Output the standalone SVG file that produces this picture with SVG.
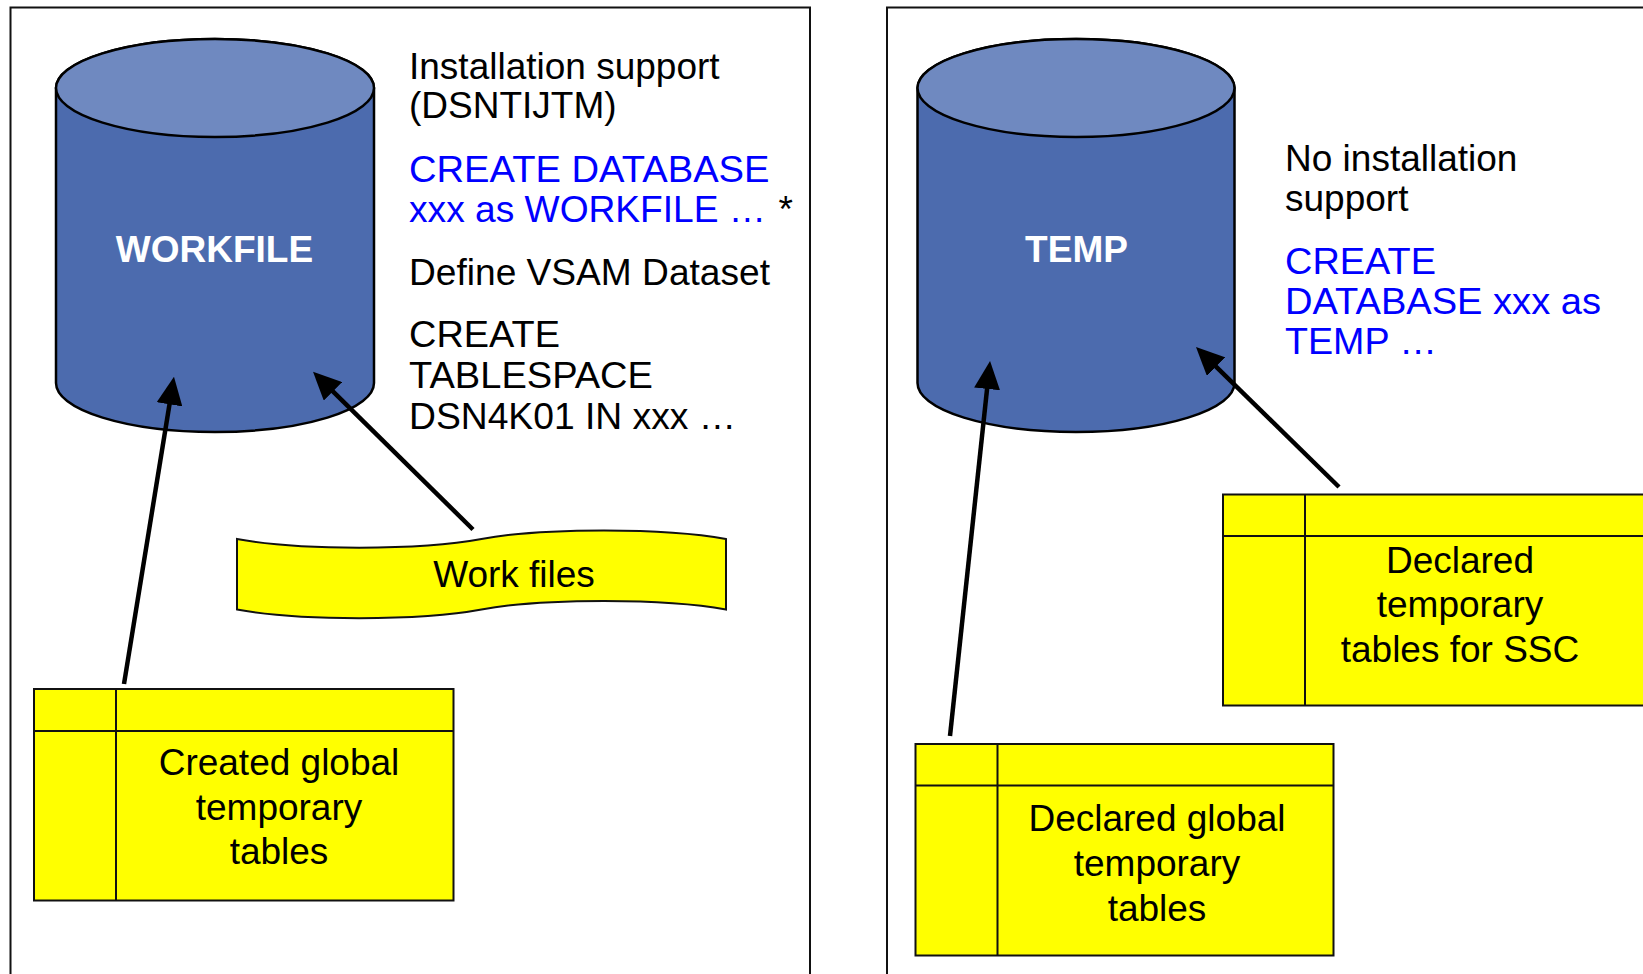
<svg xmlns="http://www.w3.org/2000/svg" width="1643" height="974" viewBox="0 0 1643 974">
<defs>
<style>
.frame{fill:#fff;stroke:#111;stroke-width:2}
.cylbody{fill:#4C6BAE;stroke:#000;stroke-width:2.5}
.cyltop{fill:#6F89C0;stroke:#000;stroke-width:2.5}
.yel{fill:#FFFF00;stroke:#111;stroke-width:2}
.ln{fill:none;stroke:#111;stroke-width:2}
.t{font-family:"Liberation Sans",Arial,sans-serif;font-size:37px;fill:#000}
.b{fill:#0000FF}
.c{text-anchor:middle}
.cyl{font-family:"Liberation Sans",Arial,sans-serif;font-size:37px;font-weight:bold;fill:#fff;text-anchor:middle}
.arr{stroke:#000;stroke-width:4.5;fill:none;marker-end:url(#ah)}
</style>
<marker id="ah" markerUnits="userSpaceOnUse" markerWidth="28" markerHeight="26" viewBox="0 0 28 26" refX="20" refY="13" orient="auto">
<path d="M0,0 L28,13 L0,26 Z" fill="#000"/>
</marker>
</defs>

<g id="panel-left">
<rect class="frame" x="10.5" y="7.5" width="799.5" height="1000"/>
</g>
<g id="panel-right">
<rect class="frame" x="887" y="7.5" width="800" height="1000"/>
</g>

<g id="workfile">
<path class="cylbody" d="M56,88 A159,49 0 0 1 374,88 V383 A159,49 0 0 1 56,383 Z"/>
<ellipse class="cyltop" cx="215" cy="88" rx="159" ry="49"/>
<text class="cyl" x="214.5" y="262">WORKFILE</text>
</g>

<g id="workfile-notes">
<text class="t" x="409" y="79">Installation support</text>
<text class="t" x="409" y="118">(DSNTIJTM)</text>
<text class="t b" x="409" y="181.5" textLength="360.5" lengthAdjust="spacingAndGlyphs">CREATE DATABASE</text>
<text class="t b" x="409" y="221.5" textLength="357" lengthAdjust="spacingAndGlyphs">xxx as WORKFILE …</text>
<text class="t" x="778.5" y="221.5">*</text>
<text class="t" x="409" y="285" textLength="361" lengthAdjust="spacingAndGlyphs">Define VSAM Dataset</text>
<text class="t" x="409" y="347" textLength="151" lengthAdjust="spacingAndGlyphs">CREATE</text>
<text class="t" x="409" y="388" textLength="244" lengthAdjust="spacingAndGlyphs">TABLESPACE</text>
<text class="t" x="409" y="428.5" textLength="327" lengthAdjust="spacingAndGlyphs">DSN4K01 IN xxx …</text>
</g>

<g id="temp">
<path class="cylbody" d="M917.5,88 A158.5,49 0 0 1 1234.5,88 V383 A158.5,49 0 0 1 917.5,383 Z"/>
<ellipse class="cyltop" cx="1076" cy="88" rx="158.5" ry="49"/>
<text class="cyl" x="1076.5" y="262">TEMP</text>
</g>

<g id="temp-notes">
<text class="t" x="1285" y="170.5">No installation</text>
<text class="t" x="1285" y="210.5">support</text>
<text class="t b" x="1285" y="273.5" textLength="151" lengthAdjust="spacingAndGlyphs">CREATE</text>
<text class="t b" x="1285" y="313.5" textLength="316" lengthAdjust="spacingAndGlyphs">DATABASE xxx as</text>
<text class="t b" x="1285" y="354" textLength="152" lengthAdjust="spacingAndGlyphs">TEMP …</text>
</g>

<g id="workfiles">
<path class="yel" d="M237,539 C298,550.5 420,550.5 481.5,539 C543,527.5 665,527.5 726,539 L726,609.5 C665,598 543,598 481.5,609.5 C420,621 298,621 237,609.5 Z"/>
<text class="t c" x="514" y="587">Work files</text>
</g>

<g id="created-gtt">
<rect class="yel" x="34" y="689" width="419.5" height="211.5"/>
<line class="ln" x1="34" y1="731" x2="453.5" y2="731"/>
<line class="ln" x1="116" y1="689" x2="116" y2="900.5"/>
<text class="t c" x="279" y="775">Created global</text>
<text class="t c" x="279" y="820">temporary</text>
<text class="t c" x="279" y="864">tables</text>
</g>

<g id="declared-ssc">
<rect class="yel" x="1223" y="494.5" width="440" height="211"/>
<line class="ln" x1="1223" y1="536" x2="1663" y2="536"/>
<line class="ln" x1="1305" y1="494.5" x2="1305" y2="705.5"/>
<text class="t c" x="1460" y="573">Declared</text>
<text class="t c" x="1460" y="617">temporary</text>
<text class="t c" x="1460" y="662">tables for SSC</text>
</g>

<g id="declared-gtt">
<rect class="yel" x="915.5" y="744" width="418" height="211.5"/>
<line class="ln" x1="915.5" y1="785.5" x2="1333.5" y2="785.5"/>
<line class="ln" x1="997.5" y1="744" x2="997.5" y2="955.5"/>
<text class="t c" x="1157" y="830.5">Declared global</text>
<text class="t c" x="1157" y="875.5">temporary</text>
<text class="t c" x="1157" y="920.5">tables</text>
</g>

<g id="connectors">
<line class="arr" x1="124" y1="684" x2="172.7" y2="384.6"/>
<line class="arr" x1="473" y1="529.5" x2="318.7" y2="377.3"/>
<line class="arr" x1="950" y1="736" x2="989.2" y2="369"/>
<line class="arr" x1="1339" y1="487" x2="1201.7" y2="352.6"/>
</g>
</svg>
